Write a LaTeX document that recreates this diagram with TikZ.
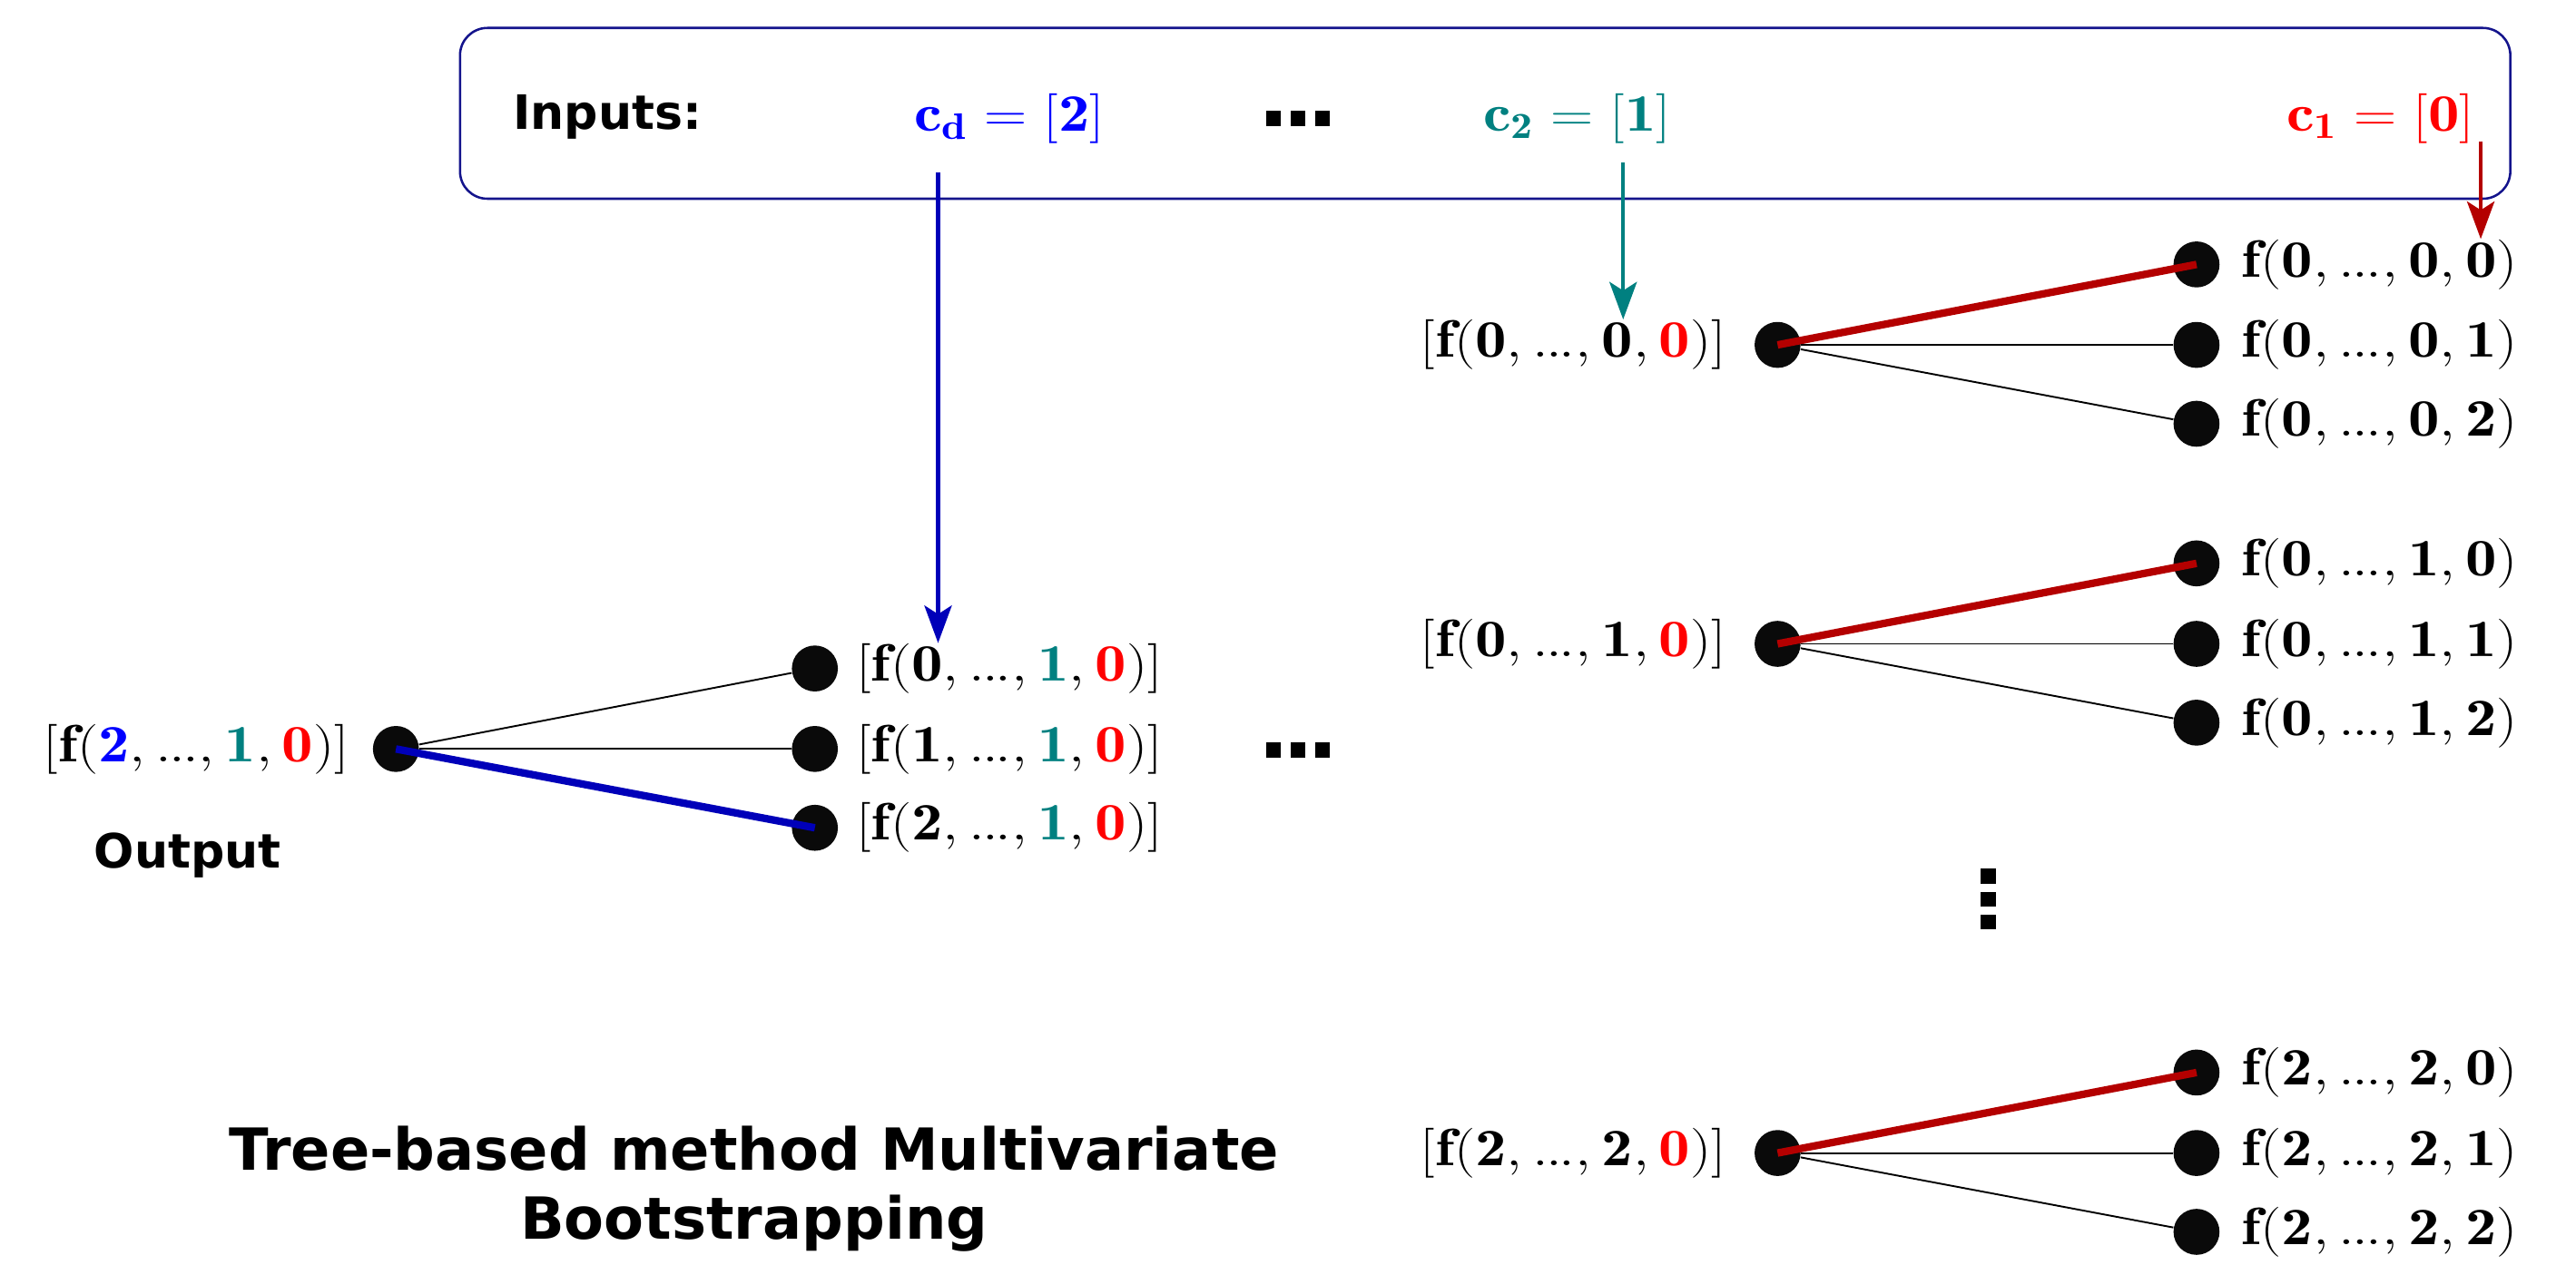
\documentclass[tikz,border=0pt]{standalone}
\usepackage{fontspec}
\usepackage{graphicx}
\usetikzlibrary{arrows.meta}
\newfontfamily\dvs{DejaVu Sans}
\definecolor{cblue}{RGB}{0,0,255}
\definecolor{cteal}{RGB}{0,128,128}
\definecolor{cred}{RGB}{255,0,0}
\definecolor{dblue}{RGB}{0,0,185}
\definecolor{dred}{RGB}{180,0,0}
\definecolor{navy}{RGB}{20,20,140}
\definecolor{dotc}{RGB}{10,10,10}
\newcommand{\Bl}[1]{{\color{cblue}#1}}
\newcommand{\Tl}[1]{{\color{cteal}#1}}
\newcommand{\Rd}[1]{{\color{cred}#1}}
\newcommand{\dd}{.\mkern-0.8mu.\mkern-0.8mu.}
\newcommand{\lab}[1]{\scalebox{1.19}[1]{$#1$}}
\begin{document}
\begin{tikzpicture}[x=0.02cm,y=-0.02cm,
  dotn/.style={circle,fill=dotc,inner sep=0pt,minimum size=0.56cm},
  mlab/.style={inner sep=0pt,font=\fontsize{18.2}{21}\selectfont},
  stxt/.style={inner sep=0pt,font=\fontsize{16.4}{19}\selectfont\dvs\bfseries},
  thinedge/.style={line width=0.6pt,black},
  redge/.style={line width=2.6pt,dred},
  bedge/.style={line width=2.6pt,dblue},
  arr/.style={line width=1.3pt,-{Stealth[length=13pt,width=9.5pt,inset=3pt]}},
]
\useasboundingbox (0,0) rectangle (1568,770);

% input box
\draw[navy,line width=0.8pt,rounded corners=9.5pt] (280,17) rectangle (1528,121);
\node[stxt,anchor=west] (inputs) at (312,71) {Inputs:};
\node[mlab,anchor=center] (cd) at (614.5,72) {\lab{\Bl{\mathbf{c_d}=[\mathbf{2}]}}};
\node[mlab,anchor=center] (c2) at (960,72) {\lab{\Tl{\mathbf{c_2}=[\mathbf{1}]}}};
\node[mlab,anchor=center] (c1) at (1449,72) {\lab{\Rd{\mathbf{c_1}=[\mathbf{0}]}}};
\foreach \x in {770.7,785.6,800.3}{\fill (\x,67.4) rectangle ++(9,9.4);}

% left tree
\node[dotn] (L) at (241,456) {};
\node[dotn] (L0) at (496,407) {};
\node[dotn] (L1) at (496,456) {};
\node[dotn] (L2) at (496,504) {};
\node[mlab,anchor=east] (Llab) at (213,456) {\lab{[\mathbf{f}(\Bl{\mathbf{2}}, \dd, \Tl{\mathbf{1}}, \Rd{\mathbf{0}})]}};
\node[mlab,anchor=west] (L0lab) at (521,407) {\lab{[\mathbf{f}(\mathbf{0}, \dd, \Tl{\mathbf{1}}, \Rd{\mathbf{0}})]}};
\node[mlab,anchor=west] (L1lab) at (521,456) {\lab{[\mathbf{f}(\mathbf{1}, \dd, \Tl{\mathbf{1}}, \Rd{\mathbf{0}})]}};
\node[mlab,anchor=west] (L2lab) at (521,504) {\lab{[\mathbf{f}(\mathbf{2}, \dd, \Tl{\mathbf{1}}, \Rd{\mathbf{0}})]}};
\draw[thinedge] (L) -- (L0);
\draw[thinedge] (L) -- (L1);
\draw[bedge] (L.center) -- (L2.center);
\node[stxt,anchor=west] (out) at (57,521) {Output};
\foreach \x in {770.7,785.6,800.3}{\fill (\x,452) rectangle ++(9,9.4);}

% right trees
\foreach \n/\y/\a/\b in {A/210/0/0,B/392/0/1,C/702/2/2}{
  \node[dotn] (\n) at (1082,\y) {};
  \node[mlab,anchor=east] (\n lab) at (1051,\y) {\lab{[\mathbf{f}(\mathbf{\a}, \dd, \mathbf{\b}, \Rd{\mathbf{0}})]}};
  \foreach \k/\dy in {0/-49,1/0,2/48}{
    \node[dotn] (\n\k) at (1337,\y+\dy) {};
    \node[mlab,anchor=west] (\n\k lab) at (1364,\y+\dy) {\lab{\mathbf{f}(\mathbf{\a}, \dd, \mathbf{\b}, \mathbf{\k})}};
  }
  \draw[redge] (\n.center) -- (\n0.center);
  \draw[thinedge] (\n) -- (\n1);
  \draw[thinedge] (\n) -- (\n2);
}
\foreach \y in {529,543,557}{\fill (1205.5,\y) rectangle ++(9.4,9);}

% arrows
\coordinate (bs) at (571,105);
\coordinate (ts) at (988,99);
\coordinate (rs) at (1510,86);
\draw[arr,dblue] (bs) -- (bs |- L0lab.north);
\draw[arr,cteal] (ts) -- (ts |- Alab.north);
\draw[arr,dred] (rs) -- (rs |- A0lab.north);

% title
\node[inner sep=0pt,align=center,font=\fontsize{20.1}{24}\selectfont\dvs\bfseries] (title) at (459,724) {Tree-based method Multivariate\\Bootstrapping};
\end{tikzpicture}
\end{document}
